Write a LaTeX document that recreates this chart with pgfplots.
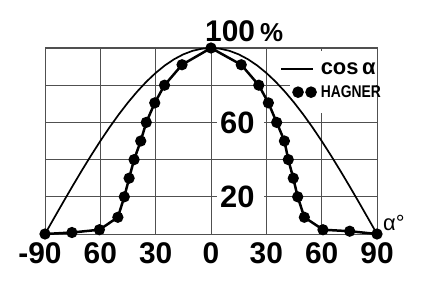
\documentclass[border=0pt]{standalone}
\usepackage{fontspec}
\setmainfont{Liberation Sans}
\usepackage{graphicx}
\usepackage{pgfplots}
\pgfplotsset{compat=1.18}
\definecolor{gridc}{HTML}{505050}
\begin{document}
\begin{tikzpicture}[x=1bp,y=1bp]
\path[use as bounding box] (0,0) rectangle (440,291);
\begin{axis}[at={(45bp,57bp)}, anchor=south west, scale only axis,
  width=332bp, height=186bp,
  xmin=-90, xmax=90, ymin=0, ymax=100,
  xtick={-90,-60,-30,0,30,60,90},
  xticklabels={\llap{-}90,60,30,0,30,60,90},
  ytick={0,20,40,60,80,100}, yticklabels={},
  grid=major, major grid style={gridc, line width=0.9bp},
  axis line style={gridc, line width=1bp},
  major tick length=0pt,
  xticklabel style={font=\fontsize{30}{30}\selectfont\bfseries, inner sep=0pt, yshift=-8bp},
  clip=false,
  legend cell align=left,
  legend style={draw=none, fill=none, at={(axis cs:37.4,93)}, anchor=north west,
    inner sep=0pt, row sep=8bp, column sep=3bp, cells={anchor=west},
    nodes={inner sep=1bp}},
]
\fill[white] (axis cs:43,98.6) rectangle (axis cs:89.5,65);
\addplot[black, line width=1.7bp,
  legend image code/.code={\draw[black, line width=1.7bp] (0bp,0bp) -- (32bp,0bp);}]
  coordinates {
  (-90,0) (-85,8.72) (-80,17.36) (-75,25.88) (-70,34.20) (-65,42.26) (-60,50.00)
  (-55,57.36) (-50,64.28) (-45,70.71) (-40,76.60) (-35,81.92) (-30,86.60)
  (-25,90.63) (-20,93.97) (-15,96.59) (-10,98.48) (-5,99.62) (0,100)
  (5,99.62) (10,98.48) (15,96.59) (20,93.97) (25,90.63) (30,86.60) (35,81.92)
  (40,76.60) (45,70.71) (50,64.28) (55,57.36) (60,50.00) (65,42.26) (70,34.20)
  (75,25.88) (80,17.36) (85,8.72) (90,0)};
\addlegendentry{\fontsize{22}{22}\selectfont\bfseries cos\,α}
\addplot[black, line width=2.5bp, mark=*, mark size=4.3bp,
  legend image code/.code={\fill[black] (17bp,0bp) circle (4.5bp); \fill[black] (30bp,0bp) circle (4.5bp);}]
  coordinates {
  (-90,0) (-75.4,0.8) (-60.5,2.3) (-50.5,9) (-47,20) (-44.4,30) (-41.7,40)
  (-38.1,50) (-35.1,60) (-30.5,70.5) (-25.2,80) (-15.7,91) (0,100)
  (16.4,91) (25.9,80) (31.1,70.5) (35.6,60) (39.8,50) (41.9,40) (44.6,30)
  (47,20) (50.6,9) (60.7,2.3) (75.2,1.5) (90,0)};
\addlegendentry{\scalebox{0.82}[1]{\fontsize{17}{17}\selectfont\bfseries HAGNER}}
\node[anchor=base west, inner sep=0pt, font=\fontsize{30}{30}\selectfont\bfseries,
  xshift=-6bp, yshift=6bp] at (axis cs:0,100) {100\,{\fontsize{26}{26}\selectfont\%}};
\node[anchor=west, fill=white, inner sep=3bp, font=\fontsize{31}{31}\selectfont\bfseries,
  xshift=6bp] at (axis cs:0,60) {60\hspace*{6bp}};
\node[anchor=west, fill=white, inner sep=3bp, font=\fontsize{31}{31}\selectfont\bfseries,
  xshift=6bp] at (axis cs:0,20) {20\hspace*{6bp}};
\node[anchor=base west, inner sep=0pt, font=\fontsize{22}{22}\selectfont,
  xshift=6bp, yshift=4bp] at (axis cs:90,0) {α°};
\end{axis}
\end{tikzpicture}
\end{document}
